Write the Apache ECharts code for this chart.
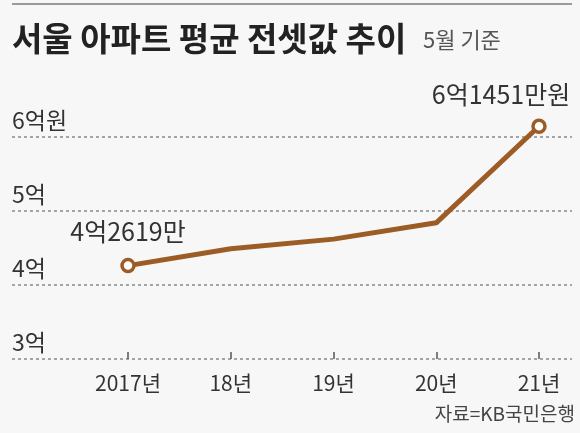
<!DOCTYPE html>
<html>
<head>
<meta charset="utf-8">
<script src="https://cdn.jsdelivr.net/npm/echarts@6/dist/echarts.min.js"></script>
<style>
  html, body { margin: 0; padding: 0; background: #f7f7f7; }
  #chart { width: 580px; height: 433px; }
</style>
</head>
<body>
<div id="chart"></div>
<script>
// 서울 아파트 평균 전셋값 (억원, 5월 기준)
var years = ['2017년', '18년', '19년', '20년', '21년'];
var prices = [4.2619, 4.49, 4.62, 4.84, 6.1451];
var pointLabels = ['4억2619만', '', '', '', '6억1451만원'];
var yTicks = { 3: '3억', 4: '4억', 5: '5억', 6: '6억원' };

var FONT = '"Noto Sans CJK KR", "Noto Sans", sans-serif';
var LINE_COLOR = '#9c5c26';

var chart = echarts.init(document.getElementById('chart'), null, { renderer: 'canvas' });

//처음과 끝 점에만 표식과 레이블
var seriesData = prices.map(function (v, i) {
  var item = { value: v };
  if (i === 0) {
    item.label = { show: true, position: 'top', distance: 14 };
  } else if (i === prices.length - 1) {
    item.label = { show: true, position: 'top', distance: 12, offset: [-38, 0] };
  } else {
    item.symbol = 'none';
  }
  return item;
});

var option = {
  backgroundColor: '#f7f7f7',
  animation: false,
  textStyle: { fontFamily: FONT },
  graphic: [
    { //상단 구분선
      type: 'line',
      shape: { x1: 12, y1: 4, x2: 572, y2: 4 },
      style: { stroke: '#9a9a9a', lineWidth: 2 }
    },
    { //제목
      type: 'text',
      x: 12, y: 38,
      style: {
        text: '서울 아파트 평균 전셋값 추이',
        font: 'bold 33px ' + FONT,
        fill: '#222',
        textAlign: 'left',
        textVerticalAlign: 'middle'
      }
    },
    {
      type: 'text',
      x: 423, y: 40,
      style: {
        text: '5월 기준',
        font: '22px ' + FONT,
        fill: '#555',
        textAlign: 'left',
        textVerticalAlign: 'middle'
      }
    },
    { //출처
      type: 'text',
      x: 575, y: 414,
      style: {
        text: '자료=KB국민은행',
        font: '19px ' + FONT,
        fill: '#444',
        textAlign: 'right',
        textVerticalAlign: 'middle'
      }
    }
  ],
  grid: [
    { left: 12, right: 8, top: 137, bottom: 74 },   //눈금선용
    { left: 128, right: 41, top: 137, bottom: 74 }  //꺾은선용
  ],
  xAxis: [
    { gridIndex: 0, type: 'value', min: 0, max: 1, show: false },
    {
      gridIndex: 1,
      type: 'category',
      data: years,
      boundaryGap: false,
      axisLine: { show: false },
      axisTick: { show: true, inside: true, length: 7, lineStyle: { color: '#555', width: 1.5 } },
      axisLabel: { fontSize: 21, color: '#333', margin: 14, fontFamily: FONT }
    }
  ],
  yAxis: [
    {
      gridIndex: 0,
      type: 'value',
      min: 3, max: 6, interval: 1,
      axisLine: { show: false },
      axisTick: { show: false },
      splitLine: { show: true, lineStyle: { color: '#8a8a8a', type: [3, 3], width: 1.5 } },
      axisLabel: {
        margin: 0,
        align: 'left',
        verticalAlign: 'bottom',
        padding: [0, 0, 5, 0],
        fontSize: 23,
        color: '#333',
        fontFamily: FONT,
        formatter: function (v) { return yTicks[v] || ''; }
      }
    },
    {
      gridIndex: 1,
      type: 'value',
      min: 3, max: 6, interval: 1,
      show: false
    }
  ],
  series: [{
    type: 'line',
    xAxisIndex: 1,
    yAxisIndex: 1,
    data: seriesData,
    clip: false,
    symbol: 'circle',
    symbolSize: 12,
    showAllSymbol: true,
    lineStyle: { color: LINE_COLOR, width: 5 },
    itemStyle: { color: '#fff', borderColor: LINE_COLOR, borderWidth: 3.5 },
    label: {
      show: false,
      fontSize: 25,
      color: '#333',
      fontFamily: FONT,
      formatter: function (p) { return pointLabels[p.dataIndex]; }
    },
    emphasis: { disabled: true }
  }]
};

chart.setOption(option);
</script>
</body>
</html>
